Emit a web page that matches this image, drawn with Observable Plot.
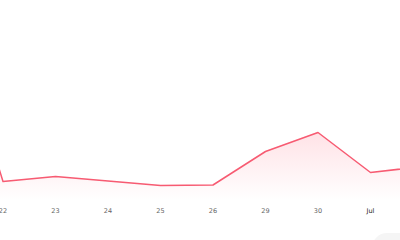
<!DOCTYPE html>
<html><head><meta charset="utf-8">
<script src="https://cdn.jsdelivr.net/npm/d3@7"></script>
<script src="https://cdn.jsdelivr.net/npm/@observablehq/plot@0.6"></script>
<style>
html,body{margin:0;padding:0;background:#fff;overflow:hidden;width:400px;height:240px;}
#wrap{position:relative;width:400px;height:240px;}
#pill{position:absolute;left:372px;top:233px;width:60px;height:30px;border-radius:15px;background:#f5f5f5;}
</style></head>
<body><div id="wrap"><div id="pill"></div></div>
<script>
const dayIndex = [-1, 0, 1, 2, 3, 4, 5, 6, 7, 8];
const dayLabels = ["19", "22", "23", "24", "25", "26", "29", "30", "Jul", "2"];
const prices = [230, 59, 64, 59.5, 55, 55.5, 89, 108, 68, 74];
const tickIndex = [0, 1, 2, 3, 4, 5, 6, 7];
const tickLabels = ["22", "23", "24", "25", "26", "29", "30", "Jul"];

const data = dayIndex.map((i, k) => ({i, label: dayLabels[k], v: prices[k]}));
const ticks = tickIndex.map((i, k) => ({i, label: tickLabels[k]}));

const gradient = () => {
  const svg = d3.create("svg:g");
  const defs = svg.append("defs");
  const g = defs.append("linearGradient").attr("id", "fadeFill")
    .attr("gradientUnits", "userSpaceOnUse")
    .attr("x1", 0).attr("x2", 0).attr("y1", 130).attr("y2", 200);
  g.append("stop").attr("offset", "0%").attr("stop-color", "#ff5a70").attr("stop-opacity", 0.18);
  g.append("stop").attr("offset", "100%").attr("stop-color", "#ff5a70").attr("stop-opacity", 0.0);
  return svg.node();
};

const chart = Plot.plot({
  width: 400, height: 240,
  margin: 0,
  x: {type: "linear", domain: [-2.5/52.5, 397.5/52.5], axis: null},
  y: {domain: [0, 240], axis: null},
  style: {background: "transparent", overflow: "visible"},
  marks: [
    gradient,
    Plot.areaY(data, {x: "i", y1: 40, y2: "v", fill: "url(#fadeFill)"}),
    Plot.lineY(data, {x: "i", y: "v", stroke: "#f75b72", strokeWidth: 1.5}),
    Plot.text(ticks, {x: "i", y: 30, text: "label", fontSize: 6.5,
      fontFamily: "DejaVu Sans, sans-serif",
      fill: d => d.label === "Jul" ? "#222" : "#666",
      fontWeight: d => d.label === "Jul" ? "bold" : "normal"})
  ]
});
document.getElementById("wrap").prepend(chart);
chart.style.position = "absolute"; chart.style.left = "0"; chart.style.top = "0";
</script>
</body></html>
